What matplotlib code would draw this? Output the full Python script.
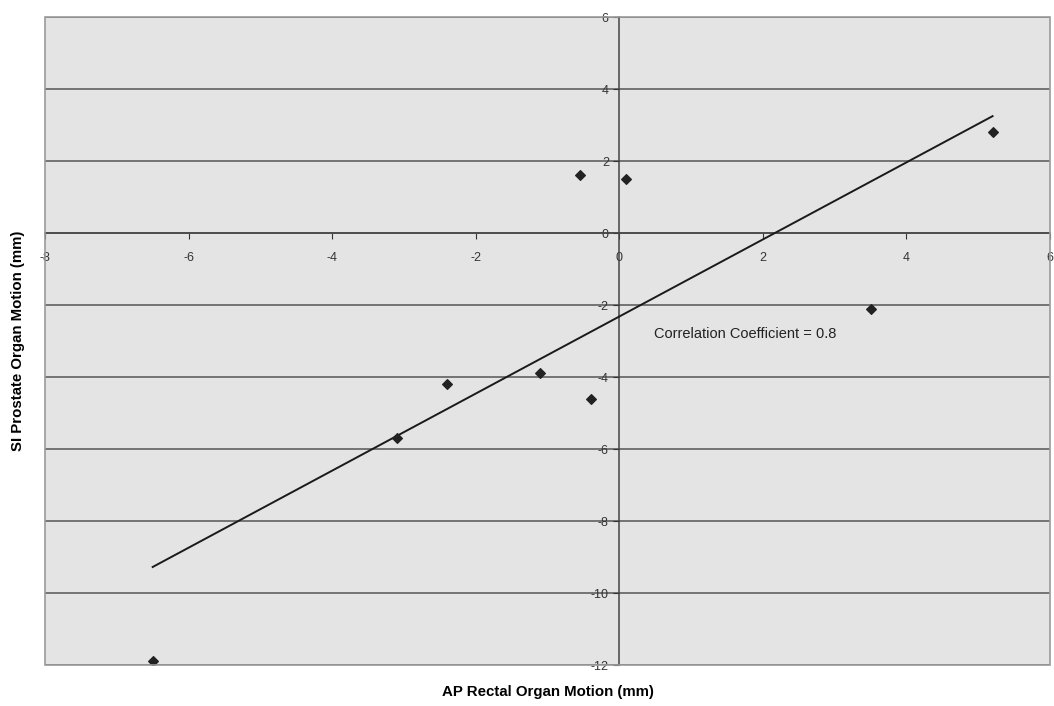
import numpy as np
import matplotlib
matplotlib.use("Agg")
import matplotlib.pyplot as plt
from matplotlib.patches import Rectangle

plt.rcParams['font.family'] = ['Liberation Sans', 'DejaVu Sans']
plt.rcParams['axes.unicode_minus'] = False

ap_rectal = [-6.5, -3.1, -2.4, -1.1, -0.4, -0.55, 0.1, 3.5, 5.2]
si_prostate = [-11.9, -5.7, -4.2, -3.9, -4.6, 1.6, 1.5, -2.1, 2.8]
x_ticks = [-8, -6, -4, -2, 0, 2, 4, 6]
y_ticks = [-12, -10, -8, -6, -4, -2, 0, 2, 4, 6]
annotation = "Correlation Coefficient = 0.8"

fig = plt.figure(figsize=(10.54, 7.06), dpi=100)
ax = fig.add_axes([45/1054, 1-665/706, (1050-45)/1054, (665-17)/706])
ax.set_facecolor('#e4e4e4')

ax.set_xlim(-8, 6)
ax.set_ylim(-12, 6)
ax.set_xticks(x_ticks)
ax.set_yticks(y_ticks)
ax.yaxis.grid(True, color='#555555', linewidth=1.1)
ax.set_axisbelow(True)

for s in ['top', 'right']:
    ax.spines[s].set_visible(False)
ax.spines['left'].set_position(('data', 0))
ax.spines['bottom'].set_position(('data', 0))
ax.spines['left'].set_color('#444444')
ax.spines['bottom'].set_color('#444444')
ax.spines['left'].set_linewidth(1.1)
ax.spines['bottom'].set_linewidth(1.1)
ax.add_patch(Rectangle((0, 0), 1, 1, transform=ax.transAxes, fill=False,
                       edgecolor='#9a9a9a', linewidth=1.2, zorder=5, clip_on=False))

ax.tick_params(axis='both', labelsize=9, colors='#333333', length=4, width=0.8, direction='out')
ax.tick_params(axis='x', pad=10)

x = np.array(ap_rectal)
y = np.array(si_prostate)
slope, intercept = np.polyfit(x, y, 1)
xl = np.array([x.min(), x.max()])
ax.plot(xl, slope*xl + intercept, color='#1a1a1a', linewidth=1.4, zorder=3)
ax.scatter(x, y, marker='D', s=24, color='#222222', zorder=4)

ax.text(0.49, -2.8, annotation, fontsize=10.5, color='#222222', va='center', ha='left')

fig.text(548/1054, 1-692/706, "AP Rectal Organ Motion (mm)", fontsize=10.8,
         fontweight='bold', ha='center', va='center')
fig.text(18/1054, 1-341/706, "SI Prostate Organ Motion (mm)", fontsize=10.8,
         fontweight='bold', ha='center', va='center', rotation=90)

fig.savefig("out.png", dpi=100, facecolor='white')
